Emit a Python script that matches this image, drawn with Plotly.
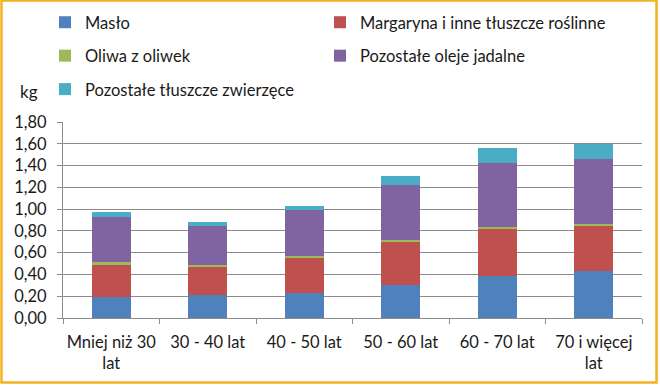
import plotly.graph_objects as go

categories = ["Mniej niż 30<br>lat", "30 - 40 lat", "40 - 50 lat", "50 - 60 lat", "60 - 70 lat", "70 i więcej<br>lat"]
maslo = [0.19, 0.21, 0.23, 0.30, 0.39, 0.43]
margaryna = [0.30, 0.26, 0.32, 0.40, 0.43, 0.42]
oliwa = [0.02, 0.015, 0.02, 0.02, 0.02, 0.01]
oleje = [0.42, 0.36, 0.42, 0.50, 0.58, 0.60]
zwierzece = [0.04, 0.04, 0.04, 0.08, 0.14, 0.14]
series_names = ["Masło", "Margaryna i inne tłuszcze roślinne", "Oliwa z oliwek",
                "Pozostałe oleje jadalne", "Pozostałe tłuszcze zwierzęce"]
colors = ["#4F81BD", "#C0504D", "#9BBB59", "#8064A2", "#4BACC6"]
y_ticks = [0, 0.2, 0.4, 0.6, 0.8, 1.0, 1.2, 1.4, 1.6, 1.8]

W, H = 660, 386
ML, MR, MT, MB = 63, 18, 122, 68
FONT = "Lato, Roboto, sans-serif"
TXT = "#1a1a1a"

fig = go.Figure()
for i, (name, vals) in enumerate(zip(series_names, [maslo, margaryna, oliwa, oleje, zwierzece])):
    fig.add_trace(go.Bar(x=categories, y=vals, name=name, legendgroup=f"g{i}",
                         legendwidth=(255 if i in (1, 3) else 230),
                         marker=dict(color=colors[i], line=dict(width=0)), width=0.4))

pw = W - ML - MR
ph = H - MT - MB

def px_x(p):
    return (p - ML) / pw

def px_y(p):
    return (H - MB - p) / ph

fig.update_layout(
    width=W, height=H,
    margin=dict(l=ML, r=MR, t=MT, b=MB, pad=0, autoexpand=False),
    barmode="stack",
    paper_bgcolor="white", plot_bgcolor="white",
    separators=",.",
    font=dict(family=FONT, size=16.5, color=TXT),
    legend=dict(orientation="h", traceorder="grouped", tracegroupgap=9,
                entrywidth=230, entrywidthmode="pixels",
                xref="container", yref="container", x=45 / W, y=1 - 5 / H,
                xanchor="left", yanchor="top",
                font=dict(family=FONT, size=16.5, color=TXT),
                bgcolor="rgba(0,0,0,0)", itemclick=False),
    xaxis=dict(showline=True, linecolor="#8C8C8C", linewidth=1, ticks="outside",
               tickson="boundaries", ticklen=5, tickcolor="#8C8C8C",
               tickfont=dict(size=16.5), tickangle=0, ticklabelstandoff=9,
               automargin=False, showgrid=False, fixedrange=True),
    yaxis=dict(range=[0, 1.8], tickvals=y_ticks, tickformat=".2f",
               showline=True, linecolor="#8C8C8C", linewidth=1,
               ticks="outside", ticklen=5, tickcolor="#8C8C8C",
               showgrid=True, gridcolor="#8C8C8C", gridwidth=1, automargin=False,
               zeroline=False, ticklabelstandoff=7, fixedrange=True),
    annotations=[dict(text="kg", xref="paper", yref="paper", x=px_x(29), y=px_y(91),
                      showarrow=False, xanchor="center", yanchor="middle",
                      font=dict(family=FONT, size=17, color=TXT))],
    shapes=[dict(type="rect", xref="paper", yref="paper",
                 x0=px_x(1.5), x1=px_x(656.5), y0=px_y(382.5), y1=px_y(0.5),
                 line=dict(color="#F4B222", width=2.5), fillcolor="rgba(0,0,0,0)",
                 layer="above")],
)

fig.write_html("out.html", config={"displayModeBar": False},
               post_script="document.body.style.margin='0';")
